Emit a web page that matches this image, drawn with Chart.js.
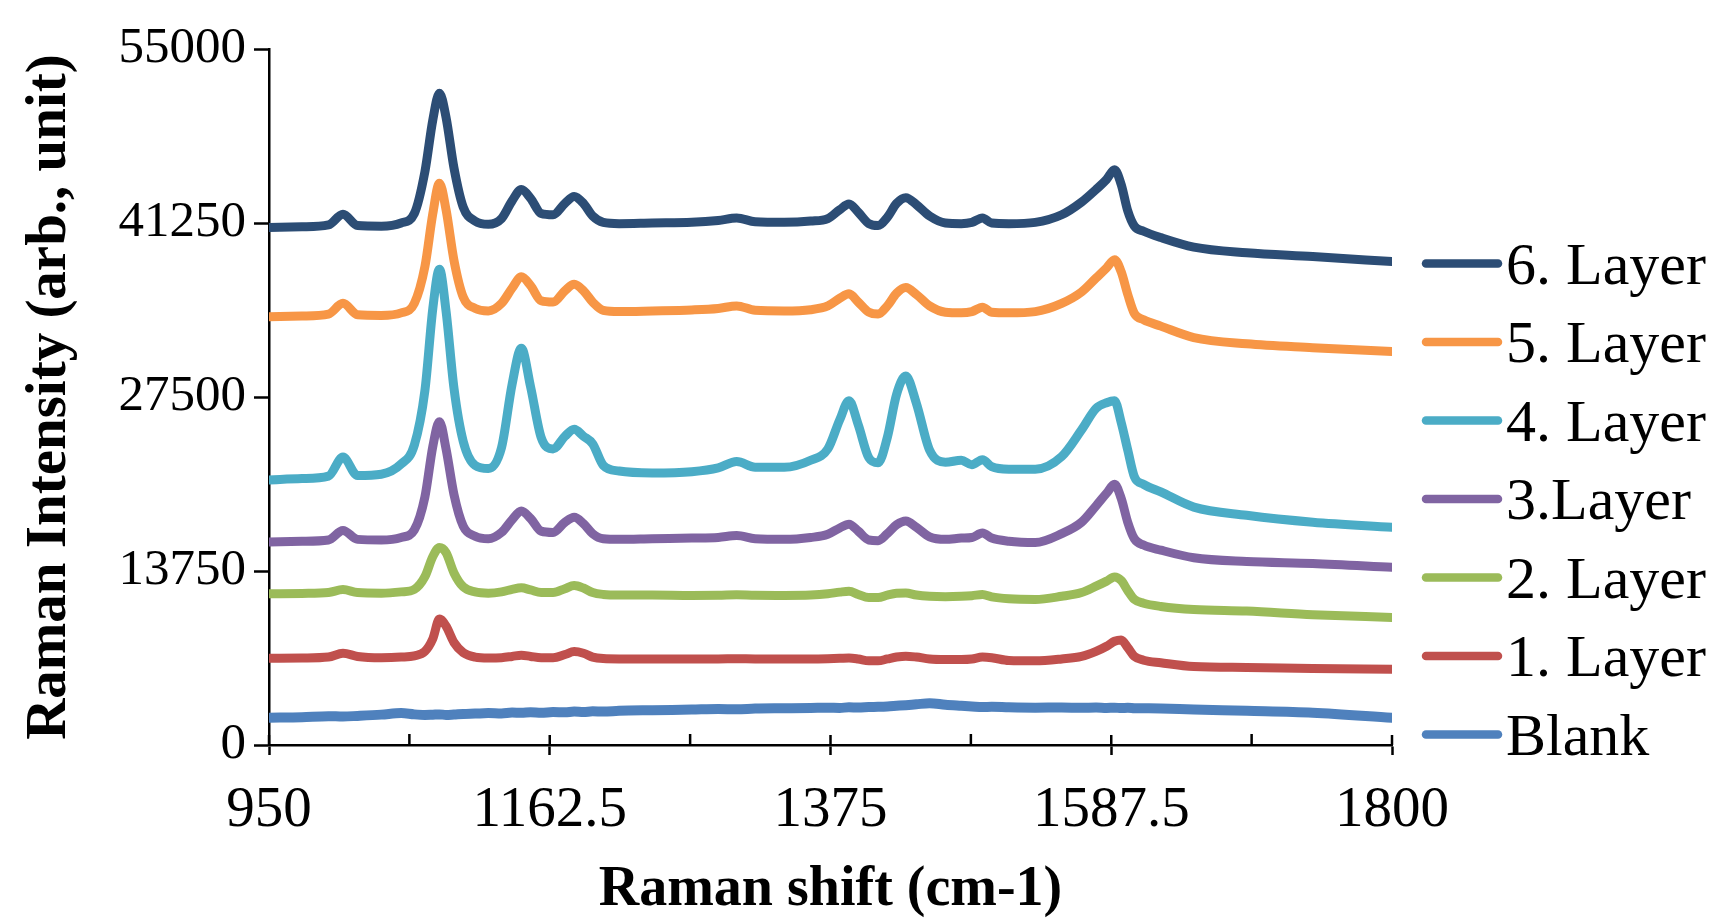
<!DOCTYPE html>
<html>
<head>
<meta charset="utf-8">
<script src="https://cdn.jsdelivr.net/npm/chart.js@4.4.1/dist/chart.umd.min.js"></script>
<style>
  html, body { margin: 0; padding: 0; background: #fff; }
  #wrap { width: 1719px; height: 919px; }
</style>
</head>
<body>
<div id="wrap"><canvas id="raman" width="1719" height="919"></canvas></div>
<script>
'use strict';

// Raman shift sample points (cm-1)
const shift = [950, 975, 995, 1006, 1017, 1035, 1050, 1060, 1068, 1074, 1079, 1084, 1090, 1097, 1106, 1116,
  1126, 1134, 1141, 1148, 1156, 1165, 1174, 1181, 1188, 1195, 1203, 1215, 1240, 1270, 1290, 1304,
  1318, 1340, 1360, 1373, 1382, 1389, 1396, 1404, 1411, 1418, 1425, 1432, 1440, 1450, 1462, 1474,
  1482, 1490, 1497, 1510, 1530, 1550, 1565, 1576, 1584, 1590, 1595, 1600, 1605, 1612, 1625, 1650,
  1690, 1740, 1800];

const layer6 = [40900, 40950, 41100, 41950, 41050, 41000, 41250, 42000, 45300, 49400, 51500, 49600, 45600, 42500, 41400, 41150,
  41600, 43000, 43900, 43200, 42000, 41900, 42800, 43350, 42800, 41800, 41300, 41200, 41250, 41300, 41450, 41650,
  41350, 41300, 41400, 41600, 42300, 42750, 42100, 41200, 41050, 41700, 42800, 43250, 42700, 41800, 41250, 41200,
  41300, 41650, 41250, 41200, 41300, 41900, 42900, 43900, 44700, 45450, 44300, 42200, 41000, 40600, 40100, 39350,
  38900, 38600, 38200];

const layer5 = [33850, 33900, 34050, 34900, 34000, 33950, 34150, 34900, 37800, 42000, 44400, 42300, 38300, 35400, 34500, 34300,
  34900, 36100, 37000, 36300, 35100, 35000, 35900, 36400, 35900, 35000, 34350, 34250, 34300, 34380, 34500, 34700,
  34350, 34300, 34400, 34700, 35300, 35650, 35000, 34200, 34050, 34700, 35700, 36150, 35600, 34700, 34200, 34150,
  34250, 34600, 34200, 34150, 34250, 34900, 35800, 36900, 37700, 38350, 37400, 35600, 34100, 33600, 33100, 32200,
  31700, 31400, 31100];

const layer4 = [20950, 21050, 21250, 22750, 21300, 21400, 22200, 23700, 28000, 34500, 37600, 34300, 28200, 24000, 22100, 21850,
  23500, 28500, 31350, 28300, 24300, 23400, 24400, 24950, 24400, 23800, 22100, 21650, 21500, 21600, 21900, 22400,
  21950, 21950, 22500, 23400, 25700, 27200, 25300, 22700, 22300, 24300, 27700, 29150, 27000, 23300, 22350, 22500,
  22150, 22550, 22000, 21800, 21800, 22800, 24900, 26600, 27050, 27200, 25500, 23300, 21200, 20600, 20000, 18800,
  18150, 17600, 17200];

const layer3 = [16050, 16100, 16200, 16950, 16250, 16200, 16400, 17000, 19600, 23600, 25550, 23400, 19800, 17300, 16500, 16300,
  16800, 17800, 18500, 17900, 16900, 16800, 17600, 18000, 17500, 16700, 16300, 16250, 16300, 16350, 16400, 16550,
  16300, 16250, 16400, 16650, 17150, 17450, 16900, 16200, 16150, 16700, 17400, 17700, 17200, 16450, 16250, 16350,
  16400, 16750, 16350, 16100, 16000, 16700, 17600, 18900, 19900, 20600, 19500, 17600, 16300, 15800, 15400, 14800,
  14500, 14350, 14050];

const layer2 = [11950, 11980, 12050, 12280, 12050, 12000, 12100, 12300, 13300, 14900, 15600, 15200, 13600, 12500, 12100, 12000,
  12100, 12300, 12420, 12250, 12050, 12050, 12350, 12600, 12400, 12050, 11900, 11850, 11850, 11820, 11830, 11880,
  11830, 11820, 11850, 11950, 12080, 12150, 11900, 11650, 11650, 11850, 12000, 12020, 11850, 11750, 11720, 11750,
  11800, 11890, 11700, 11550, 11500, 11750, 12050, 12550, 12950, 13280, 13000, 12200, 11500, 11200, 10950, 10700,
  10580, 10300, 10080];

const layer1 = [6850, 6870, 6950, 7250, 7000, 6900, 6950, 7050, 7400, 8400, 9950, 9400, 8100, 7300, 6950, 6880,
  6900, 7000, 7100, 7000, 6900, 6900, 7150, 7380, 7250, 6950, 6830, 6800, 6800, 6800, 6800, 6820,
  6800, 6800, 6800, 6820, 6850, 6880, 6800, 6650, 6650, 6800, 6950, 7020, 6950, 6800, 6760, 6760,
  6800, 6950, 6900, 6680, 6650, 6800, 7000, 7400, 7800, 8200, 8300, 7700, 7000, 6700, 6500, 6200,
  6130, 6050, 5980];

const blank = [2150, 2200, 2280, 2250, 2300, 2400, 2520, 2420, 2380, 2400, 2420, 2380, 2410, 2450, 2480, 2520,
  2490, 2560, 2540, 2580, 2550, 2600, 2580, 2640, 2610, 2660, 2640, 2700, 2750, 2800, 2840, 2820,
  2880, 2900, 2920, 2950, 2930, 2980, 2960, 3000, 3020, 3050, 3100, 3150, 3220, 3300, 3180, 3100,
  3050, 3000, 3020, 2980, 2950, 2960, 2940, 2960, 2930, 2950, 2920, 2940, 2910, 2900, 2880, 2800,
  2700, 2550, 2150];

const seriesNames = ['6. Layer', '5. Layer', '4. Layer', '3.Layer', '2. Layer', '1. Layer', 'Blank'];
const seriesValues = [layer6, layer5, layer4, layer3, layer2, layer1, blank];
const seriesColors = ['#2C4D75', '#F79646', '#4BACC6', '#8064A2', '#9BBB59', '#C0504D', '#4F81BD'];

const xTicks = [950, 1162.5, 1375, 1587.5, 1800];
const xMinorTicks = [1056.25, 1268.75, 1481.25, 1693.75];
const yTicks = [0, 13750, 27500, 41250, 55000];

const SERIF = '"Liberation Serif", "Times New Roman", serif';

// Legend on the right, drawn like the spreadsheet one (line then label, no gap)
const sideLegend = {
    id: 'sideLegend',
    afterDraw(chart) {
        const ctx = chart.ctx;
        ctx.save();
        ctx.font = '60px ' + SERIF;
        ctx.textBaseline = 'alphabetic';
        chart.data.datasets.forEach((ds, i) => {
            const y = 263.5 + i * 78.5;
            ctx.strokeStyle = ds.borderColor;
            ctx.lineWidth = 8.5;
            ctx.lineCap = 'round';
            ctx.beginPath();
            ctx.moveTo(1426, y);
            ctx.lineTo(1498, y);
            ctx.stroke();
            ctx.fillStyle = '#000';
            ctx.fillText(ds.label, 1506, y + 20);
        });
        ctx.restore();
    }
};

// Excel style x ticks: majors cross the axis, minors only point inward
const crossTicks = {
    id: 'crossTicks',
    afterDraw(chart) {
        const {ctx, chartArea, scales} = chart;
        const base = chartArea.bottom;
        ctx.save();
        ctx.strokeStyle = '#000';
        ctx.lineWidth = 2.5;
        ctx.beginPath();
        xTicks.forEach(v => {
            const px = scales.x.getPixelForValue(v);
            ctx.moveTo(px, base);
            ctx.lineTo(px, base - 10);
        });
        xMinorTicks.forEach(v => {
            const px = scales.x.getPixelForValue(v);
            ctx.moveTo(px, base);
            ctx.lineTo(px, base - 11);
        });
        ctx.stroke();
        ctx.restore();
    }
};

const datasets = seriesNames.map((name, i) => ({
    label: name,
    data: shift.map((x, j) => ({x: x, y: seriesValues[i][j]})),
    borderColor: seriesColors[i],
    backgroundColor: seriesColors[i],
    borderWidth: name === 'Blank' ? 10 : 9,
    pointRadius: 0,
    cubicInterpolationMode: 'monotone',
    borderCapStyle: 'round',
    borderJoinStyle: 'round',
    fill: false
}));

new Chart(document.getElementById('raman'), {
    type: 'line',
    data: {datasets: datasets},
    options: {
        responsive: false,
        animation: false,
        layout: {padding: {top: 49, right: 327, bottom: 0, left: 0}},
        plugins: {
            legend: {display: false},
            tooltip: {enabled: false}
        },
        scales: {
            x: {
                type: 'linear',
                min: 950,
                max: 1800,
                afterBuildTicks: scale => { scale.ticks = xTicks.map(v => ({value: v})); },
                afterFit: scale => { scale.height = 174; },
                grid: {drawOnChartArea: false, drawTicks: true, tickLength: 10, tickWidth: 2.5, color: '#000'},
                border: {display: true, color: '#000', width: 2.5},
                ticks: {
                    padding: 22,
                    color: '#000',
                    font: {family: SERIF, size: 57},
                    maxRotation: 0,
                    callback: v => String(v)
                },
                title: {
                    display: true,
                    text: 'Raman shift (cm-1)',
                    color: '#000',
                    font: {family: SERIF, size: 56, weight: 'bold', lineHeight: 1},
                    padding: {top: 0, bottom: 0}
                }
            },
            y: {
                type: 'linear',
                min: 0,
                max: 55000,
                afterBuildTicks: scale => { scale.ticks = yTicks.map(v => ({value: v})); },
                afterFit: scale => { scale.width = 269; },
                grid: {drawOnChartArea: false, drawTicks: true, tickLength: 15, tickWidth: 2.5, color: '#000'},
                border: {display: true, color: '#000', width: 2.5},
                ticks: {
                    padding: 8,
                    color: '#000',
                    font: {family: SERIF, size: 51},
                    callback: v => String(v)
                },
                title: {
                    display: true,
                    text: 'Raman Intensity (arb., unit)',
                    color: '#000',
                    font: {family: SERIF, size: 57, weight: 'bold', lineHeight: 1},
                    padding: {top: 22, bottom: 0}
                }
            }
        }
    },
    plugins: [sideLegend, crossTicks]
});
</script>
</body>
</html>
